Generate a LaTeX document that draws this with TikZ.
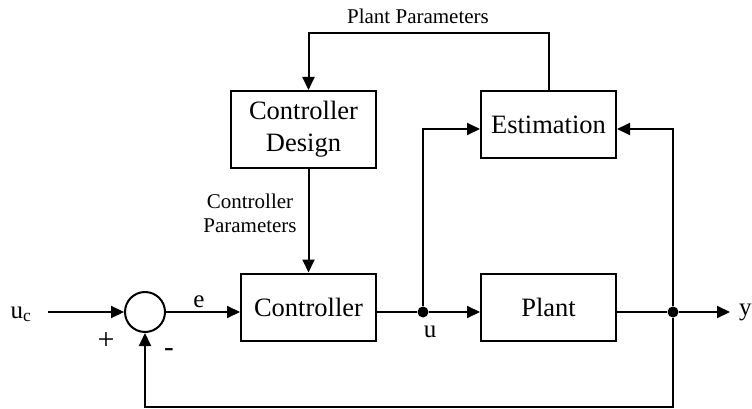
\documentclass[tikz,border=0pt]{standalone}
\usepackage{fontspec}
\setmainfont{Liberation Serif}
\usetikzlibrary{arrows.meta,calc}
\tikzset{
	blk/.style={draw, line width=2pt, minimum width=135pt, minimum height=67pt, inner sep=0pt, font=\fontsize{26.5}{32}\selectfont},
	lbl/.style={inner sep=0pt, font=\fontsize{25}{30}\selectfont},
	small/.style={inner sep=0pt, align=center, font=\fontsize{21}{24}\selectfont},
	sig/.style={line width=2pt, -{Triangle[length=13pt,width=12pt]}},
	wire/.style={line width=2pt},
	jdot/.style={circle, fill=black, inner sep=0pt, minimum size=11pt},
}

\begin{document}
\begin{tikzpicture}[x=1pt, y=-1pt]
			%%%%% START %%%%%
			\useasboundingbox (0,0) rectangle (752,409);
			
			\node[blk] (ctrl) at (308.5,307) {Controller};
			\node[blk] (plant) at (548.5,307.5) {Plant};
			\node[blk] (est) at (548.5,124.5) {Estimation};
			\node[blk, minimum width=145pt, minimum height=77pt, align=center] (design) at (303.5,129.5) {Controller\\Design};
			\node[draw, circle, line width=2pt, minimum size=40pt, inner sep=0pt] (sum) at (145,312) {};
			
			\node[jdot] (ju) at (423,312) {};
			\node[jdot] (jy) at (673,312) {};
			\coordinate (in) at (48,312);
			\coordinate (out) at (730,312);
			\coordinate (pp) at (418,33);
			\coordinate (fb) at (145,407);
			
			\node[lbl, anchor=base] (uc) at (21,318) {u\textsubscript{c}};
			\node[lbl, anchor=base] (e) at (199,307) {e};
			\node[lbl, anchor=base] (u) at (430,337) {u};
			\node[lbl, anchor=base west] (y) at (739,315) {y};
			\node[lbl, font=\fontsize{30}{34}\selectfont] (plus) at (106,341) {+};
			\node[lbl, font=\fontsize{29}{34}\selectfont] (minus) at (169,353) {-};
			\node[small, anchor=base] (pplbl) at (418,24) {Plant Parameters};
			\node[small] (cplbl) at (250,213) {Controller\\Parameters};
			
			% forward path
			\draw[sig] (in) -- (sum.west);
			\draw[sig] (sum.east) -- (sum.east -| ctrl.west);
			\draw[wire] (ctrl.east |- ju) -- (ju);
			\draw[sig] (ju) -- (ju -| plant.west);
			\draw[wire] (plant.east |- jy) -- (jy);
			\draw[sig] (jy) -- (out);
			
			% adaptation loop
			\draw[sig] (ju) |- ([yshift=-4.5pt]est.west);
			\draw[sig] (jy) |- ([yshift=-4.5pt]est.east);
			\draw[sig] (est.north) |- (pp) -| (design.north -| ctrl.north);
			\draw[sig] (design.south -| ctrl.north) -- (ctrl.north);
			
			% feedback
			\draw[sig] (jy) |- (fb) -- (sum.south);
			%%%%% END %%%%%
\end{tikzpicture}
\end{document}
